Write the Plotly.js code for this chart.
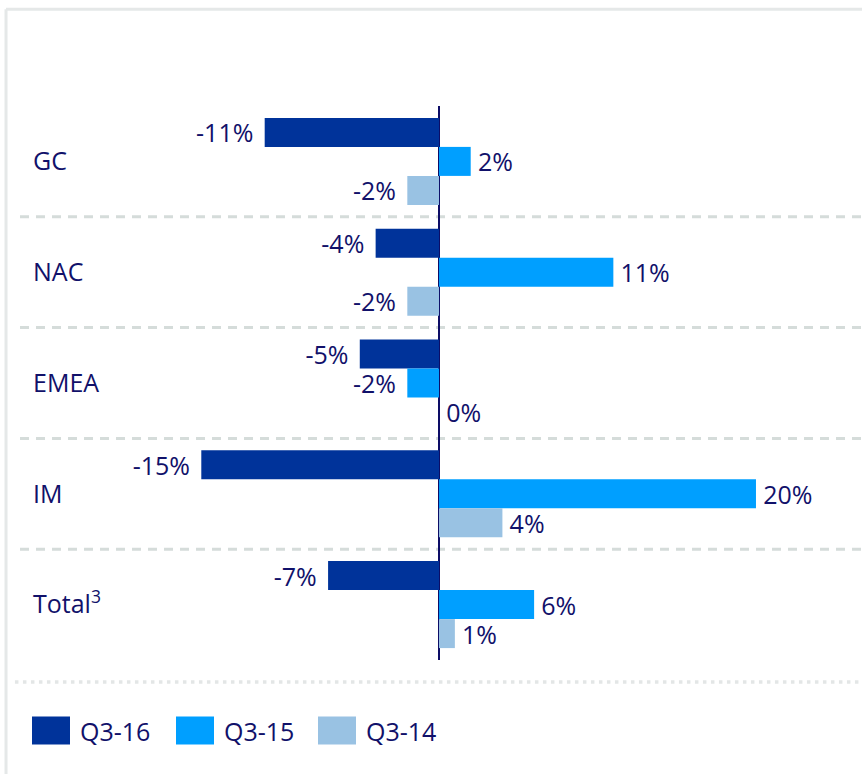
<!DOCTYPE html>
<html>
<head>
<meta charset="utf-8">
<script src="https://cdn.plot.ly/plotly-3.0.1.min.js"></script>
<style>
  html, body { margin: 0; padding: 0; background: #ffffff; }
  #chart { width: 862px; height: 774px; }
</style>
</head>
<body>
<div id="chart"></div>
<script>
// ---- data ----
const categories = ["GC", "NAC", "EMEA", "IM", "Total<sup>3</sup>"];
const seriesNames = ["Q3-16", "Q3-15", "Q3-14"];
const q3_16 = [-11, -4, -5, -15, -7];
const q3_15 = [2, 11, -2, 20, 6];
const q3_14 = [-2, -2, 0, 4, 1];
const seriesColors = ["#00339a", "#009fff", "#99c2e3"];

const TEXT = "#11116a";
const FONT = "Open Sans, Noto Sans, sans-serif";

function labels(vals) {
  return vals.map(v => v < 0 ? v + "%\u2004" : "\u2006" + v + "%");
}

const seriesValues = [q3_16, q3_15, q3_14];
const traces = seriesValues.map((vals, i) => ({
  type: "bar",
  orientation: "h",
  name: seriesNames[i],
  y: categories,
  x: vals,
  marker: { color: seriesColors[i], line: { width: 0 } },
  text: labels(vals),
  textposition: "outside",
  constraintext: "none",
  textfont: { family: FONT, size: 25, color: TEXT },
  cliponaxis: false,
  showlegend: false,
  hoverinfo: "skip"
}));

// separators between category groups
const shapes = categories.slice(1).map((c, i) => ({
  type: "line", xref: "paper", yref: "y",
  x0: 0, x1: 1, y0: i + 0.5, y1: i + 0.5,
  line: { color: "#d5dcda", width: 3, dash: "9px,7px" },
  layer: "below"
}));

// frame lines (top and left), dotted rule above legend
shapes.push(
  { type: "line", xref: "paper", yref: "paper", x0: -0.0166, x1: 1, y0: 1.1745, y1: 1.1745,
    line: { color: "#e5e8e8", width: 3 } },
  { type: "line", xref: "paper", yref: "paper", x0: -0.0166, x1: -0.0166, y0: 1.1745, y1: -0.21,
    line: { color: "#e5e8e8", width: 3 } },
  { type: "line", xref: "paper", yref: "paper", x0: -0.006, x1: 1, y0: -0.0397, y1: -0.0397,
    line: { color: "#e3e6e6", width: 3.5, dash: "3.5px,4.5px" } }
);

// custom legend (large swatches)
const annotations = [];
const legendX = [32, 176, 318];
seriesNames.forEach((n, i) => {
  const x0 = (legendX[i] - 20) / 842;
  const x1 = (legendX[i] + 38 - 20) / 842;
  shapes.push({
    type: "rect", xref: "paper", yref: "paper",
    x0: x0, x1: x1, y0: (659.6 - 716) / 554, y1: (659.6 - 744) / 554,
    fillcolor: seriesColors[i], line: { width: 0 }
  });
  annotations.push({
    xref: "paper", yref: "paper",
    x: (legendX[i] + 46 - 20) / 842, y: (659.6 - 731) / 554,
    xanchor: "left", yanchor: "middle",
    text: n, showarrow: false,
    font: { family: FONT, size: 25, color: TEXT }
  });
});

const layout = {
  width: 862, height: 774,
  margin: { l: 20, r: 0, t: 105.6, b: 114.4, pad: 0 },
  paper_bgcolor: "#ffffff",
  plot_bgcolor: "rgba(0,0,0,0)",
  barmode: "group",
  bargap: 0.215,
  bargroupgap: 0,
  showlegend: false,
  xaxis: {
    range: [-26.44, 26.69],
    showgrid: false,
    showticklabels: false,
    ticks: "",
    zeroline: true,
    zerolinecolor: "#0d0d66",
    zerolinewidth: 2,
    fixedrange: true
  },
  yaxis: {
    type: "category",
    autorange: "reversed",
    showgrid: false,
    zeroline: false,
    ticks: "",
    ticklabelposition: "inside",
    ticklabelstandoff: 10,
    tickfont: { family: FONT, size: 25, color: TEXT },
    fixedrange: true
  },
  shapes: shapes,
  annotations: annotations
};

Plotly.newPlot("chart", traces, layout, { displayModeBar: false, staticPlot: true });
</script>
</body>
</html>
